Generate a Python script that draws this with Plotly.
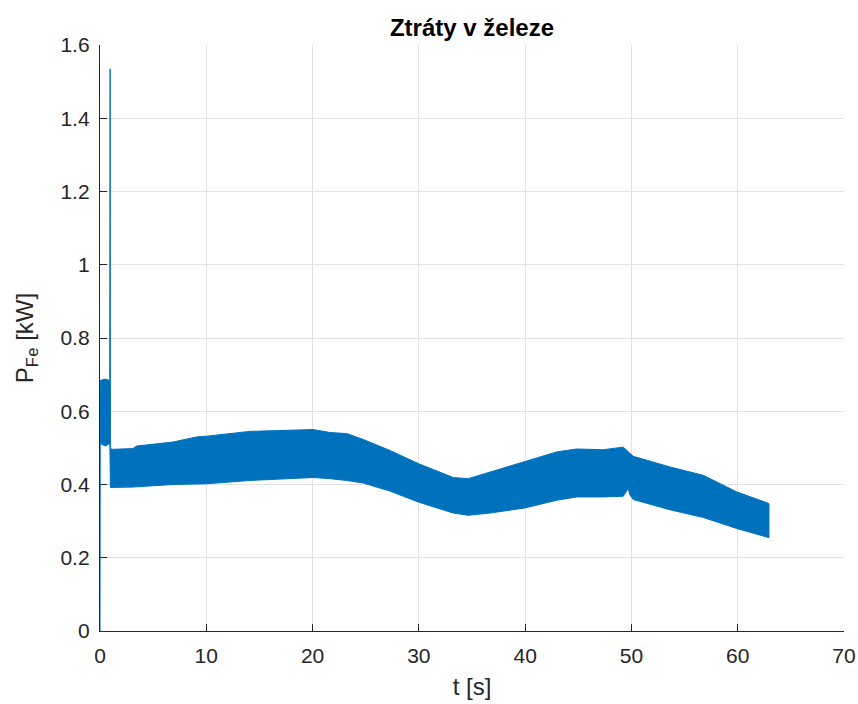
import plotly.graph_objects as go

# Iron losses P_Fe over time: the signal oscillates quickly, so it is drawn
# as the band between its upper and lower envelopes.
t_upper = [0.0, 0.02, 0.45, 0.92, 0.95, 0.98, 1.1, 3.1, 3.45, 6.87, 9.1, 10.04,
           14.1, 17.56, 20.04, 21.64, 23.21, 24.77, 27.28, 29.95, 33.24, 34.65,
           36.69, 39.98, 42.97, 44.85, 47.35, 49.23, 50.17, 53.62, 56.76, 59.9,
           62.94]
p_upper = [0.60, 0.684, 0.688, 0.684, 1.535, 0.50, 0.496, 0.498, 0.505, 0.516,
           0.530, 0.532, 0.545, 0.548, 0.550, 0.542, 0.539, 0.523, 0.493, 0.457,
           0.419, 0.416, 0.434, 0.461, 0.489, 0.497, 0.495, 0.502, 0.477, 0.448,
           0.425, 0.380, 0.348]

t_lower = [0.0, 0.02, 0.5, 0.93, 0.98, 3.1, 6.87, 10.04, 14.1, 17.56, 20.04,
           21.64, 23.21, 24.77, 27.28, 29.95, 33.24, 34.65, 36.69, 39.98, 42.97,
           44.85, 47.35, 49.23, 49.7, 49.85, 50.17, 53.62, 56.76, 59.9, 62.94]
p_lower = [0.0, 0.512, 0.505, 0.512, 0.392, 0.393, 0.400, 0.402, 0.411, 0.416,
           0.419, 0.416, 0.411, 0.404, 0.382, 0.352, 0.322, 0.316, 0.322, 0.336,
           0.357, 0.366, 0.366, 0.368, 0.389, 0.372, 0.359, 0.331, 0.310, 0.280,
           0.255]

x_ticks = [0, 10, 20, 30, 40, 50, 60, 70]
y_ticks = [0, 0.2, 0.4, 0.6, 0.8, 1.0, 1.2, 1.4, 1.6]
y_tick_text = ["0", "0.2", "0.4", "0.6", "0.8", "1", "1.2", "1.4", "1.6"]

LINE_BLUE = "#0072BD"
AXIS_DARK = "#262626"
GRID = "#e2e2e2"
FONT = "Liberation Sans, Arial, Helvetica, sans-serif"

band_x = t_upper + t_lower[::-1]
band_y = p_upper + p_lower[::-1]

fig = go.Figure()
fig.add_trace(go.Scatter(
    x=band_x, y=band_y, mode="lines", fill="toself",
    fillcolor=LINE_BLUE, line=dict(color=LINE_BLUE, width=1),
    hoverinfo="skip", showlegend=False,
))

axis_common = dict(
    showline=True, linecolor=AXIS_DARK, linewidth=1.3,
    showgrid=True, gridcolor=GRID, gridwidth=1,
    ticks="inside", ticklen=7, tickwidth=1.3, tickcolor=AXIS_DARK,
    tickfont=dict(family=FONT, size=21, color=AXIS_DARK),
    zeroline=False, mirror=False, layer="below traces", automargin=False,
)

fig.update_layout(
    width=858, height=704,
    margin=dict(l=100, r=14, t=45, b=73),
    paper_bgcolor="white", plot_bgcolor="white",
    title=dict(
        text="<b>Ztráty v železe</b>",
        font=dict(family=FONT, size=24, color="black"),
        x=(100 + 844) / 2 / 858, xref="container", xanchor="center",
        y=1 - 28 / 704, yref="container", yanchor="middle",
    ),
    xaxis=dict(
        range=[0, 70], tickvals=x_ticks, ticktext=[str(v) for v in x_ticks],
        ticklabelstandoff=6,
        title=dict(text="t [s]", font=dict(family=FONT, size=24, color=AXIS_DARK),
                   standoff=11),
        **axis_common,
    ),
    yaxis=dict(
        range=[0, 1.6], tickvals=y_ticks, ticktext=y_tick_text,
        ticklabelstandoff=5,
        title=dict(text="P<sub>Fe</sub> [kW]",
                   font=dict(family=FONT, size=24, color=AXIS_DARK),
                   standoff=20),
        **axis_common,
    ),
)

fig.write_html("out.html")
